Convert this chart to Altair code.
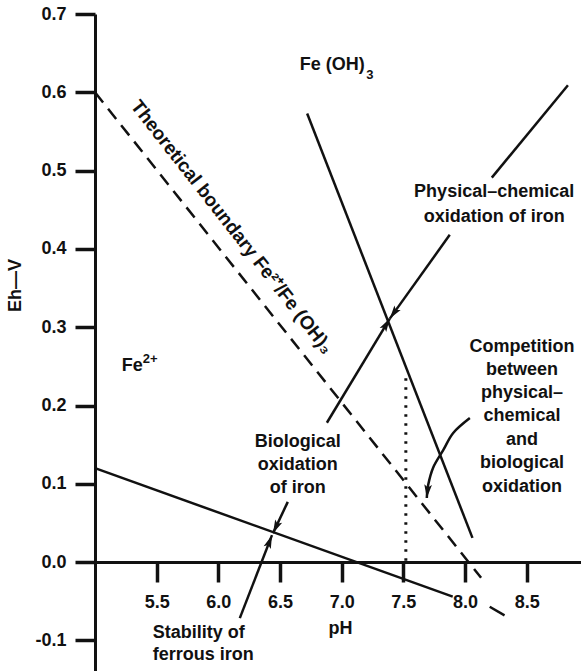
import math

import altair as alt
import pandas as pd

# ---- axis ranges and tick values (pH, Eh in volts) ----
PH_MIN, PH_MAX = 5.0, 8.94
EH_MIN, EH_MAX = -0.139, 0.7
PH_TICKS = [5.5, 6.0, 6.5, 7.0, 7.5, 8.0, 8.5]
EH_TICKS = [-0.1, 0.0, 0.1, 0.2, 0.3, 0.4, 0.5, 0.6, 0.7]

PLOT_W, PLOT_H = 486, 657
PX_PER_PH = PLOT_W / (PH_MAX - PH_MIN)
PX_PER_EH = PLOT_H / (EH_MAX - EH_MIN)
TICK_LEN = 20  # px

INK = "#111111"
FONT = "Liberation Sans"

# ---- boundary lines ----
boundary_ph = [5.0, 8.13]          # theoretical Fe2+/Fe(OH)3 boundary (dashed)
boundary_eh = [0.60, -0.02]
ferrous_ph = [5.0, 7.9]            # stability of ferrous iron
ferrous_eh = [0.12, -0.044]
ferrous_tail_ph = [8.2, 8.32]
ferrous_tail_eh = [-0.057, -0.068]
physchem_ph = [6.72, 8.06]         # physical-chemical oxidation limit
physchem_eh = [0.573, 0.031]
compet_ph = [7.52, 7.52]           # dotted divider
compet_eh = [0.235, 0.0]

# ---- straight leader arrows (last point is the arrow tip) ----
arrows = {
    "pc_upper": ([8.834, 8.217], [0.609, 0.491], False),
    "pc": ([7.876, 7.39], [0.418, 0.311], True),
    "bio": ([6.88, 7.39], [0.178, 0.311], True),
    "bio_text": ([6.563, 6.443], [0.077, 0.037], True),
    "stability": ([6.174, 6.435], [-0.0715, 0.0345], True),
}
# curved leader from the "Competition" note
curve_ph = [8.039, 7.904, 7.823, 7.742, 7.70, 7.69]
curve_eh = [0.184, 0.165, 0.143, 0.121, 0.098, 0.082]

# ---- text labels ----
center_text = ["Physical–chemical", "oxidation of iron",
               "Competition", "between", "physical–", "chemical", "and",
               "biological", "oxidation",
               "Biological", "oxidation", "of iron"]
center_ph = [8.236, 8.236,
             8.461, 8.461, 8.461, 8.461, 8.461, 8.461, 8.461,
             6.644, 6.644, 6.644]
center_eh = [0.4726, 0.4407,
             0.2746, 0.2452, 0.2159, 0.1865, 0.1558, 0.1264, 0.0958,
             0.1533, 0.1239, 0.0945]

left_text = ["Fe (OH)", "Fe", "Stability of", "ferrous iron"]
left_ph = [6.66, 5.217, 5.468, 5.468]
left_eh = [0.635, 0.2503, -0.0907, -0.1188]

small_text = ["3", "2+"]
small_ph = [7.20, 5.388]
small_eh = [0.622, 0.2593]

rot_text = ["Theoretical boundary Fe²⁺/Fe (OH)₃"]
rot_ph = [6.11]
rot_eh = [0.428]


def path_frame(name, ph, eh):
    return pd.DataFrame({"seg": name, "i": range(len(ph)), "ph": ph, "eh": eh})


def head_angle(ph, eh):
    dx = (ph[-1] - ph[-2]) * PX_PER_PH
    dy = -(eh[-1] - eh[-2]) * PX_PER_EH
    return math.degrees(math.atan2(dx, -dy)) % 360


solid = pd.concat([
    path_frame("ferrous", ferrous_ph, ferrous_eh),
    path_frame("ferrous_tail", ferrous_tail_ph, ferrous_tail_eh),
    path_frame("physchem", physchem_ph, physchem_eh),
] + [path_frame(k, v[0], v[1]) for k, v in arrows.items()])
dashed = path_frame("boundary", boundary_ph, boundary_eh)
dotted = path_frame("compet", compet_ph, compet_eh)
curve = path_frame("curve", curve_ph, curve_eh)

heads = [{"ph": ph[-1], "eh": eh[-1], "angle": head_angle(ph, eh)}
         for ph, eh, has_head in arrows.values() if has_head]
heads.append({"ph": curve_ph[-1], "eh": curve_eh[-1],
              "angle": head_angle(curve_ph, curve_eh)})
heads = pd.DataFrame(heads)

x_scale = alt.Scale(domain=[PH_MIN, PH_MAX], nice=False, zero=False)
y_scale = alt.Scale(domain=[EH_MIN, EH_MAX], nice=False, zero=False)

x_axis = alt.Axis(
    values=PH_TICKS, format=".1f", offset=-109, grid=False,
    domainColor=INK, domainWidth=3, ticks=True, tickColor=INK,
    tickWidth=3.5, tickSize=TICK_LEN,
    labelPadding=11, labelFont=FONT, labelFontSize=18, labelFontWeight="bold",
    labelColor=INK, labelOverlap=False, labelFlush=False,
    title="pH", titleFont=FONT, titleFontSize=18, titleFontWeight="bold",
    titleColor=INK, titleX=245, titleY=66, titleBaseline="middle",
)
y_axis = alt.Axis(
    values=EH_TICKS, grid=False,
    labelExpr="replace(format(datum.value, '.1f'), '−', '-')",
    domainColor=INK, domainWidth=3, ticks=True, tickColor=INK,
    tickWidth=3.5, tickSize=TICK_LEN,
    labelPadding=9, labelFont=FONT, labelFontSize=18, labelFontWeight="bold",
    labelColor=INK, labelOverlap=False,
    title="Eh—V", titleFont=FONT, titleFontSize=18, titleFontWeight="bold",
    titleColor=INK, titleX=-80, titleY=271, titleBaseline="middle",
)

X = alt.X("ph:Q", scale=x_scale, axis=x_axis)
Y = alt.Y("eh:Q", scale=y_scale, axis=y_axis)
Xn = alt.X("ph:Q", scale=x_scale)
Yn = alt.Y("eh:Q", scale=y_scale)

solid_layer = alt.Chart(solid).mark_line(color=INK, strokeWidth=2.5).encode(
    x=X, y=Y, detail="seg:N", order="i:Q")
curve_layer = alt.Chart(curve).mark_line(
    color=INK, strokeWidth=2.5, interpolate="cardinal").encode(
    x=Xn, y=Yn, detail="seg:N", order="i:Q")
dashed_layer = alt.Chart(dashed).mark_line(
    color=INK, strokeWidth=2.5, strokeDash=[13, 8]).encode(
    x=Xn, y=Yn, detail="seg:N", order="i:Q")
dotted_layer = alt.Chart(dotted).mark_line(
    color=INK, strokeWidth=3, strokeDash=[2.5, 6.5]).encode(
    x=Xn, y=Yn, detail="seg:N", order="i:Q")

head_layer = alt.Chart(heads).mark_point(
    shape="M0,0L-0.55,1.9L0,1.5L0.55,1.9Z", size=196, filled=True,
    color=INK, opacity=1, strokeWidth=0).encode(
    x=Xn, y=Yn, angle=alt.Angle("angle:Q", scale=None))

text_style = dict(font=FONT, fontWeight="bold", color=INK)

center_layer = alt.Chart(pd.DataFrame(
    {"t": center_text, "ph": center_ph, "eh": center_eh})).mark_text(
    align="center", baseline="middle", fontSize=18, **text_style).encode(
    x=Xn, y=Yn, text="t:N")
left_layer = alt.Chart(pd.DataFrame(
    {"t": left_text, "ph": left_ph, "eh": left_eh})).mark_text(
    align="left", baseline="middle", fontSize=18, **text_style).encode(
    x=Xn, y=Yn, text="t:N")
small_layer = alt.Chart(pd.DataFrame(
    {"t": small_text, "ph": small_ph, "eh": small_eh})).mark_text(
    align="left", baseline="middle", fontSize=13, **text_style).encode(
    x=Xn, y=Yn, text="t:N")
rot_layer = alt.Chart(pd.DataFrame(
    {"t": rot_text, "ph": rot_ph, "eh": rot_eh})).mark_text(
    align="center", baseline="middle", fontSize=19, angle=52, **text_style).encode(
    x=Xn, y=Yn, text="t:N")

chart = alt.layer(
    solid_layer, curve_layer, dashed_layer, dotted_layer, head_layer,
    center_layer, left_layer, small_layer, rot_layer,
).properties(
    width=PLOT_W, height=PLOT_H,
    autosize=alt.AutoSizeParams(type="none"),
    padding={"left": 95, "top": 14, "right": 0, "bottom": 0},
    background="white",
).configure_view(stroke=None)

chart.save("out.html", embed_options={"renderer": "svg", "actions": False})
